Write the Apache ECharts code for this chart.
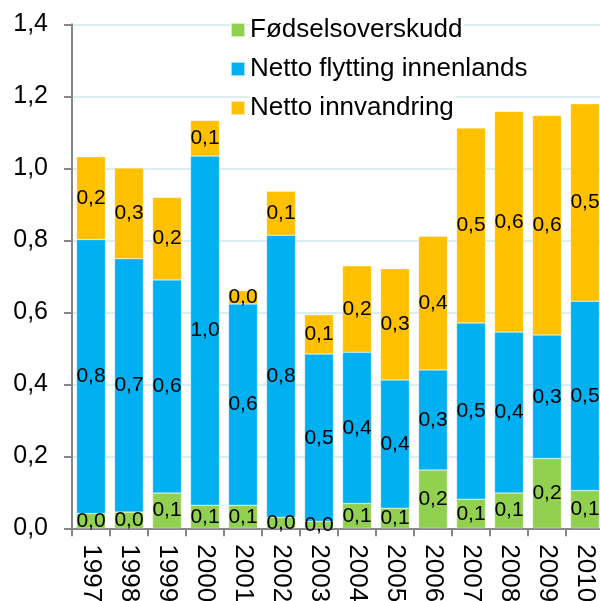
<!DOCTYPE html>
<html>
<head>
<meta charset="utf-8">
<script src="https://cdn.jsdelivr.net/npm/echarts@6/dist/echarts.min.js"></script>
<style>
html,body{margin:0;padding:0;background:#fff;}
#chart{width:600px;height:601px;}
</style>
</head>
<body>
<div id="chart"></div>
<script>
var years = ['1997','1998','1999','2000','2001','2002','2003','2004','2005','2006','2007','2008','2009','2010'];
var fodselsoverskudd = [0.041,0.045,0.098,0.064,0.064,0.031,0.019,0.069,0.056,0.162,0.081,0.098,0.194,0.105];
var nettoFlytting = [0.761,0.704,0.592,0.970,0.559,0.783,0.465,0.420,0.356,0.278,0.489,0.447,0.343,0.526];
var nettoInnvandring = [0.230,0.252,0.229,0.099,0.037,0.122,0.109,0.240,0.309,0.371,0.542,0.613,0.610,0.548];
var seriesNames = ['Fødselsoverskudd','Netto flytting innenlands','Netto innvandring'];
var colors = ['#92d050','#00b0f0','#ffc000'];

var FONT = '"Liberation Sans", Arial, sans-serif';
function fmt(v){ return v.toFixed(1).replace('.', ','); }

var chart = echarts.init(document.getElementById('chart'));
var dataSets = [fodselsoverskudd, nettoFlytting, nettoInnvandring];
var series = dataSets.map(function(d, i){
  return {
    name: seriesNames[i],
    type: 'bar',
    stack: 'total',
    data: d,
    barCategoryGap: '24%',
    itemStyle: { color: colors[i], borderColor: 'rgba(255,255,255,0.6)', borderWidth: 0.5 },
    label: {
      show: true,
      position: 'inside',
      color: '#000',
      fontFamily: FONT,
      fontSize: 21,
      formatter: function(p){ return fmt(p.value); }
    },
    emphasis: { disabled: true }
  };
});

chart.setOption({
  animation: false,
  backgroundColor: '#fff',
  color: colors,
  grid: { left: 72, top: 24.3, width: 532, height: 504, containLabel: false, outerBoundsMode: 'none' },
  legend: {
    orient: 'vertical',
    left: 225,
    top: 12,
    itemWidth: 14,
    itemHeight: 14,
    itemGap: 13,
    icon: 'rect',
    data: seriesNames,
    textStyle: { fontFamily: FONT, fontSize: 26, color: '#000', backgroundColor: '#fff', padding: [0,2,0,0] },
    selectedMode: false
  },
  xAxis: {
    type: 'category',
    data: years,
    axisLine: { lineStyle: { color: '#868686', width: 2 } },
    axisTick: { show: true, length: 8, lineStyle: { color: '#868686', width: 2 }, alignWithLabel: false },
    axisLabel: { rotate: -90, margin: 16, fontFamily: FONT, fontSize: 26, color: '#000', interval: 0 },
    splitLine: { show: false }
  },
  yAxis: {
    type: 'value',
    min: 0,
    max: 1.4,
    interval: 0.2,
    axisLine: { show: true, lineStyle: { color: '#868686', width: 2 } },
    axisTick: { show: true, length: 8, lineStyle: { color: '#868686', width: 2 } },
    axisLabel: { margin: 24, fontFamily: FONT, fontSize: 25, color: '#000', formatter: function(v){ return fmt(v); } },
    splitLine: { show: true, lineStyle: { color: '#dcedf4', width: 2 } }
  },
  series: series
});
</script>
</body>
</html>
